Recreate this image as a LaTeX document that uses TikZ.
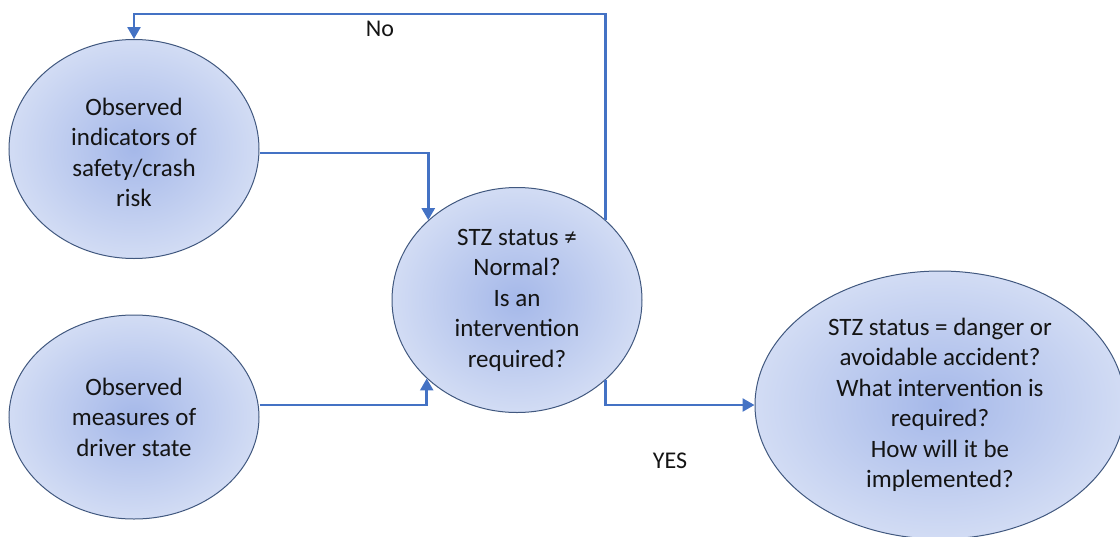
\documentclass[tikz,border=0pt]{standalone}
\usepackage{fontspec}
\setmainfont{Carlito}
\usetikzlibrary{shapes.geometric,arrows.meta,calc}
\definecolor{linkblue}{HTML}{4472C4}
\definecolor{rimblue}{HTML}{41587F}
\definecolor{coreblue}{HTML}{A5B8E9}
\definecolor{edgeblue}{HTML}{D2DCF4}
\definecolor{inkgray}{HTML}{141414}
\tikzset{
  bubble/.style={ellipse, draw=rimblue, line width=1pt, inner sep=0pt,
    inner color=coreblue, outer color=edgeblue, align=center, text=inkgray,
    font=\fontsize{25}{30.5}\selectfont},
  conn/.style={draw=linkblue, line width=2.6pt,
    -{Triangle[length=12pt,width=13pt]}},
  lbl/.style={text=inkgray, font=\fontsize{24}{29}\selectfont}
}
\begin{document}
\begin{tikzpicture}[x=1pt,y=-1pt]
\useasboundingbox (0,0) rectangle (1120,536);
\clip (0,0) rectangle (1120,536);
\node[bubble, minimum width=250pt, minimum height=219pt] (obs1) at (134,149)
  {\raisebox{-12pt}[0pt][0pt]{\begin{tabular}{@{}c@{}}Observed\\indicators of\\safety/crash\\risk\end{tabular}}};
\node[bubble, minimum width=250pt, minimum height=204pt] (obs2) at (134,417)
  {Observed\\measures of\\driver state};
\node[bubble, minimum width=250pt, minimum height=225pt] (stz) at (517,300)
  {STZ status ≠\\Normal?\\Is an\\intervention\\required?};
\node[bubble, minimum width=370pt, minimum height=268pt] (res) at (940,405)
  {STZ status = danger or\\avoidable accident?\\What intervention is\\required?\\How will it be\\implemented?};
\coordinate (toprow) at (0,14);
\draw[conn] ($(obs1.east)+(0,4)$) -| (stz.138.5);
\draw[conn] ($(obs2.east)+(0,-12)$) -| (stz.221.5);
\draw[conn] (stz.42.7) |- (obs1.north |- toprow) -- (obs1.north);
\draw[conn] (stz.-42.7) |- (res.west);
\node[lbl] (no) at (380,29) {No};
\node[lbl] (yes) at (670,461) {YES};
\end{tikzpicture}
\end{document}
